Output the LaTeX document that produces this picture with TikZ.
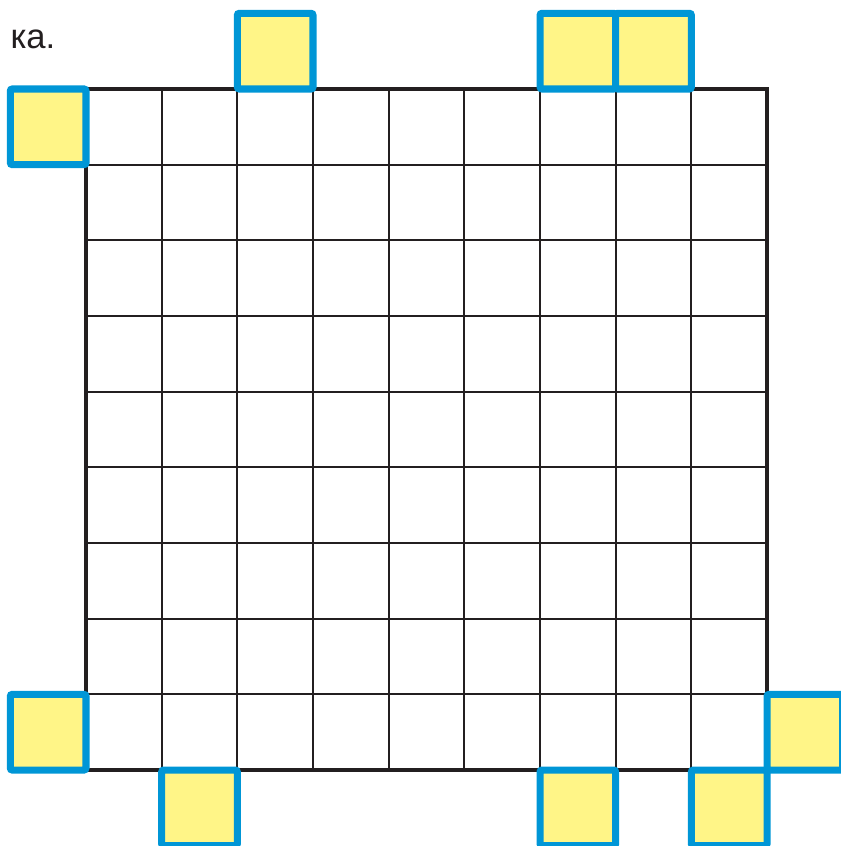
\documentclass[tikz,border=0pt]{standalone}
\usepackage{fontspec}
\setmainfont{Liberation Sans}
\definecolor{cellblue}{RGB}{0,150,214}
\definecolor{cellyellow}{RGB}{255,245,135}
\definecolor{gridblack}{RGB}{35,31,32}
\usetikzlibrary{positioning}

\begin{document}
\begin{tikzpicture}[x=2cm, y=2cm,
  gridline/.style={draw=gridblack, line width=1.5pt},
  yellowcell/.style={draw=cellblue, fill=cellyellow, line width=5.3pt, rounded corners=1.5pt, minimum size=2cm, inner sep=0pt, outer sep=0pt}]
  \useasboundingbox (-1.1365,-1.004) rectangle (9.977,10.176);
  % 9x9 grid
  \foreach \i in {1,...,8} {
    \draw[gridline] (\i,0) -- (\i,9);
    \draw[gridline] (0,\i) -- (9,\i);
  }
  \draw[draw=gridblack, line width=3pt] (0,0) rectangle (9,9);
  \node[font=\fontsize{26}{31}\selectfont, anchor=base west, inner sep=0pt, text=gridblack] (label) at (-1.0,9.54) {ка.};
  % yellow squares round the grid
  \node[yellowcell] (top1) at (2.5,9.5) {};
  \node[yellowcell] (top2) at (6.5,9.5) {};
  \node[yellowcell] (top3) at (7.5,9.5) {};
  \node[yellowcell] (left1) at (-0.5,8.5) {};
  \node[yellowcell] (left2) at (-0.5,0.5) {};
  \node[yellowcell] (right1) at (9.5,0.5) {};
  \node[yellowcell] (bottom1) at (1.5,-0.5) {};
  \node[yellowcell] (bottom2) at (6.5,-0.5) {};
  \node[yellowcell] (bottom3) at (8.5,-0.5) {};
\end{tikzpicture}
\end{document}
